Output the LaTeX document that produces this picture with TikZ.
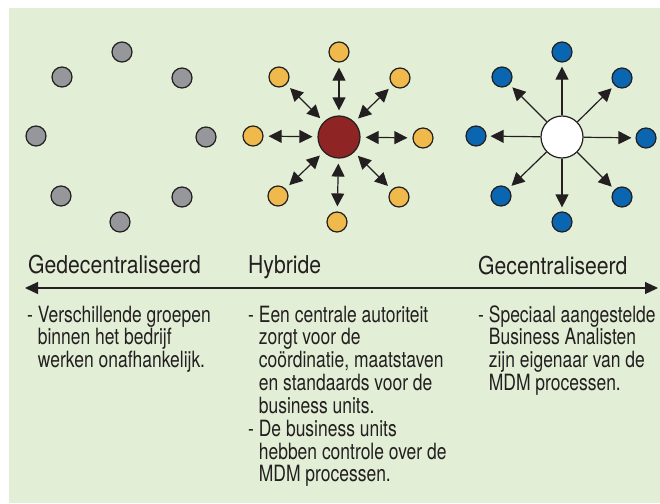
\documentclass[tikz,border=0pt]{standalone}
\usepackage{fontspec}
\setmainfont{TeX Gyre Heros}[FakeStretch=0.86]
\newfontfamily\blurbfam{TeX Gyre Heros}[FakeStretch=0.78]
\usetikzlibrary{arrows.meta}

\definecolor{bgGreen}{HTML}{E2EFD6}
\definecolor{lineDark}{HTML}{231F20}
\definecolor{dotGray}{HTML}{96979B}
\definecolor{dotOrange}{HTML}{F0B94B}
\definecolor{hubRed}{HTML}{8F2424}
\definecolor{dotBlue}{HTML}{0A66B0}

\newcommand{\headfont}{\fontsize{24.6}{28}\selectfont}
\newcommand{\blurbfont}{\blurbfam\fontsize{22.4}{21.7}\selectfont}

\begin{document}
\begin{tikzpicture}[x=1pt,y=-1pt,
		>={Triangle[length=13pt,width=13pt]},
		dot/.style={circle,draw=lineDark,line width=1.2pt,minimum size=20pt,inner sep=0pt},
		hub/.style={dot,minimum size=42pt},
		link/.style={draw=lineDark,line width=1.2pt},
		heading/.style={anchor=base west,inner sep=0pt,text=lineDark,font=\headfont},
		blurb/.style={anchor=base west,inner sep=0pt,text=lineDark,font=\blurbfont}]
		\useasboundingbox (0,0) rectangle (660,503);
		
		%background
		\fill[bgGreen] (9,8) rectangle (660,503);
		
		%decentralised ring
		\node[dot,fill=dotGray] (g1) at (122,52) {};
		\node[dot,fill=dotGray] (g2) at (182,78) {};
		\node[dot,fill=dotGray] (g3) at (206,137) {};
		\node[dot,fill=dotGray] (g4) at (182,197) {};
		\node[dot,fill=dotGray] (g5) at (120,222) {};
		\node[dot,fill=dotGray] (g6) at (61,196) {};
		\node[dot,fill=dotGray] (g7) at (36,136) {};
		\node[dot,fill=dotGray] (g8) at (62,77) {};
		
		%hybrid ring
		\node[hub,fill=hubRed] (hc) at (339,137) {};
		\node[dot,fill=dotOrange] (h1) at (339,52) {};
		\node[dot,fill=dotOrange] (h2) at (400,78) {};
		\node[dot,fill=dotOrange] (h3) at (423,138) {};
		\node[dot,fill=dotOrange] (h4) at (399,197) {};
		\node[dot,fill=dotOrange] (h5) at (337,222) {};
		\node[dot,fill=dotOrange] (h6) at (278,196) {};
		\node[dot,fill=dotOrange] (h7) at (253,136) {};
		\node[dot,fill=dotOrange] (h8) at (279,77) {};
		\draw[link,<->,shorten >=5pt,shorten <=5pt] (hc) -- (h1);
		\draw[link,<->,shorten >=5pt,shorten <=5pt] (hc) -- (h2);
		\draw[link,<->,shorten >=5pt,shorten <=5pt] (hc) -- (h3);
		\draw[link,<->,shorten >=5pt,shorten <=5pt] (hc) -- (h4);
		\draw[link,<->,shorten >=5pt,shorten <=5pt] (hc) -- (h5);
		\draw[link,<->,shorten >=5pt,shorten <=5pt] (hc) -- (h6);
		\draw[link,<->,shorten >=5pt,shorten <=5pt] (hc) -- (h7);
		\draw[link,<->,shorten >=5pt,shorten <=5pt] (hc) -- (h8);
		
		%centralised ring
		\node[hub,fill=white] (cc) at (562,137) {};
		\node[dot,fill=dotBlue] (c1) at (562,52) {};
		\node[dot,fill=dotBlue] (c2) at (622,78) {};
		\node[dot,fill=dotBlue] (c3) at (646,138) {};
		\node[dot,fill=dotBlue] (c4) at (622,197) {};
		\node[dot,fill=dotBlue] (c5) at (562,222) {};
		\node[dot,fill=dotBlue] (c6) at (501,196) {};
		\node[dot,fill=dotBlue] (c7) at (476,136) {};
		\node[dot,fill=dotBlue] (c8) at (502,77) {};
		\draw[link,->,shorten >=4pt] (cc) -- (c1);
		\draw[link,->,shorten >=4pt] (cc) -- (c2);
		\draw[link,->,shorten >=4pt] (cc) -- (c3);
		\draw[link,->,shorten >=4pt] (cc) -- (c4);
		\draw[link,->,shorten >=4pt] (cc) -- (c5);
		\draw[link,->,shorten >=4pt] (cc) -- (c6);
		\draw[link,->,shorten >=4pt] (cc) -- (c7);
		\draw[link,->,shorten >=4pt] (cc) -- (c8);
		
		%headings and scale
		\node[heading] (decTitle) at (28,273) {Gedecentraliseerd};
		\node[heading] (hybTitle) at (248,273) {Hybride};
		\node[heading] (cenTitle) at (478,274) {Gecentraliseerd};
		\coordinate (axL) at (25,288);
		\coordinate (axR) at (658,288);
		\draw[link,<->,>={Triangle[length=13pt,width=12pt]}] (axL) -- (axR);
		
		%descriptions
		\node[blurb] (decText) at (27,322) {\begin{tabular}[t]{@{}l@{\ }l@{}}
			- & Verschillende groepen\\
			& binnen het bedrijf\\
			& werken onafhankelijk.
		\end{tabular}};
		\node[blurb] (hybText) at (248,322) {\begin{tabular}[t]{@{}l@{\ }l@{}}
			- & Een centrale autoriteit\\
			& zorgt voor de\\
			& coördinatie, maatstaven\\
			& en standaards voor de\\
			& business units.\\
			- & De business units\\
			& hebben controle over de\\
			& MDM processen.
		\end{tabular}};
		\node[blurb] (cenText) at (478,322) {\begin{tabular}[t]{@{}l@{\ }l@{}}
			- & Speciaal aangestelde\\
			& Business Analisten\\
			& zijn eigenaar van de\\
			& MDM processen.
		\end{tabular}};
		
	\end{tikzpicture}
\end{document}
